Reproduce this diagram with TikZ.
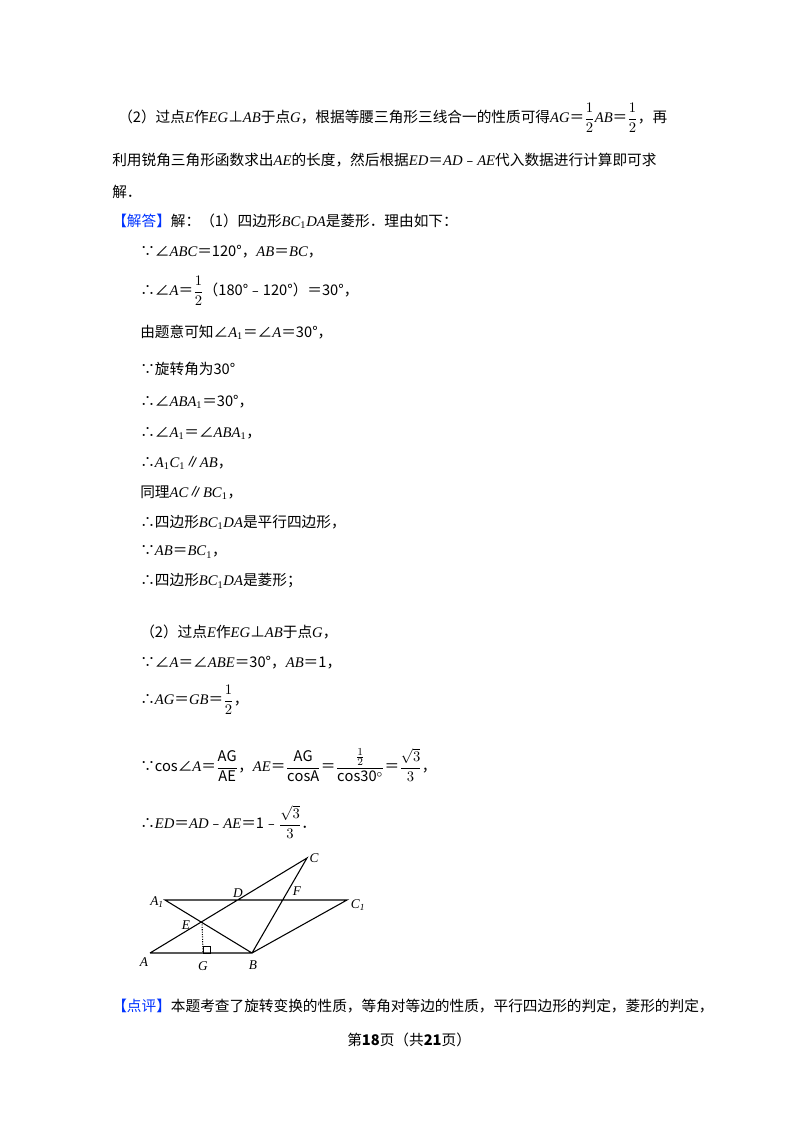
\documentclass[tikz,border=0pt]{standalone}
\usepackage{fontspec}
\setmainfont{Noto Sans CJK SC}
\newfontfamily\ls{Liberation Serif}
\newcommand\I[1]{{\ls\itshape #1}}
\newcommand\sub[1]{\textsubscript{\ls #1}}
\newcommand\F[2]{$\displaystyle\frac{#1}{#2}$}
\begin{document}
\begin{tikzpicture}[x=0.75pt,y=-0.75pt,
  tx/.style={anchor=west,inner sep=0pt,font=\fontsize{11}{13}\selectfont},
  lbl/.style={inner sep=0pt,font=\fontsize{10}{12}\selectfont\ls\itshape},
  ln/.style={line width=0.8pt}]
\useasboundingbox (0,0) rectangle (800,1132);
\node[tx] (l1) at (118,118) {（2）过点\I{E}作\I{EG}⊥\I{AB}于点\I{G}，根据等腰三角形三线合一的性质可得\I{AG}＝\F{1}{2}\I{AB}＝\F{1}{2}，再};
\node[tx] (l2) at (112,160) {利用锐角三角形函数求出\I{AE}的长度，然后根据\I{ED}＝\I{AD}﹣\I{AE}代入数据进行计算即可求};
\node[tx] (l3) at (112,192) {解．};
\node[tx] (l4) at (112,221) {\textcolor{blue!80!cyan}{【解答】}解：（1）四边形\I{BC}\sub{1}\I{DA}是菱形．理由如下：};
\node[tx] (l5) at (140,252) {∵∠\I{ABC}＝120°，\I{AB}＝\I{BC}，};
\node[tx] (l6) at (140,291) {∴∠\I{A}＝\F{1}{2}（180°﹣120°）＝30°，};
\node[tx] (l7) at (140,332) {由题意可知∠\I{A}\sub{1}＝∠\I{A}＝30°，};
\node[tx] (l8) at (140,369) {∵旋转角为30°};
\node[tx] (l9) at (140,402) {∴∠\I{ABA}\sub{1}＝30°，};
\node[tx] (l10) at (140,433) {∴∠\I{A}\sub{1}＝∠\I{ABA}\sub{1}，};
\node[tx] (l11) at (140,463) {∴\I{A}\sub{1}\I{C}\sub{1}∥\I{AB}，};
\node[tx] (l12) at (140,493) {同理\I{AC}∥\I{BC}\sub{1}，};
\node[tx] (l13) at (140,522) {∴四边形\I{BC}\sub{1}\I{DA}是平行四边形，};
\node[tx] (l14) at (140,552) {∵\I{AB}＝\I{BC}\sub{1}，};
\node[tx] (l15) at (140,581) {∴四边形\I{BC}\sub{1}\I{DA}是菱形；};
\node[tx] (l16) at (140,632) {（2）过点\I{E}作\I{EG}⊥\I{AB}于点\I{G}，};
\node[tx] (l17) at (140,663) {∵∠\I{A}＝∠\I{ABE}＝30°，\I{AB}＝1，};
\node[tx] (l18) at (140,700) {∴\I{AG}＝\I{GB}＝\F{1}{2}，};
\node[tx] (l19) at (140,765) {∵cos∠\I{A}＝\F{\mathrm{AG}}{\mathrm{AE}}，\I{AE}＝\F{\mathrm{AG}}{\mathrm{cosA}}＝\F{\frac{1}{2}}{\mathrm{cos30^\circ}}＝\F{\sqrt{3}}{3}，};
\node[tx] (l20) at (140,822) {∴\I{ED}＝\I{AD}﹣\I{AE}＝1﹣\F{\sqrt{3}}{3}．};
\node[tx] (l21) at (112,1006) {\textcolor{blue!80!cyan}{【点评】}本题考查了旋转变换的性质，等角对等边的性质，平行四边形的判定，菱形的判定，};
\node[tx] (ft) at (347,1040) {第\textbf{18}页（共\textbf{21}页）};
\coordinate (A) at (150,953);
\coordinate (G) at (203,953);
\coordinate (B) at (252,953);
\coordinate (C) at (307,858);
\coordinate (A1) at (165,900);
\coordinate (C1) at (347,900);
\coordinate (E) at (202,922);
\draw[ln] (A) -- (B) -- (C1) -- (A1) -- (B) -- (C) -- (A);
\draw[ln,densely dotted] (E) -- (G);
\draw[line width=0.6pt] (G) rectangle ++(7,-7);
\node[lbl] (lA) at (144,962) {A};
\node[lbl] (lG) at (203,966) {G};
\node[lbl] (lB) at (253,965) {B};
\node[lbl] (lC) at (314,858) {C};
\node[lbl] (lA1) at (157,902) {A\sub{1}};
\node[lbl] (lC1) at (358,905) {C\sub{1}};
\node[lbl] (lD) at (238,893) {D};
\node[lbl] (lE) at (186,925) {E};
\node[lbl] (lF) at (297,891) {F};
\end{tikzpicture}
\end{document}
